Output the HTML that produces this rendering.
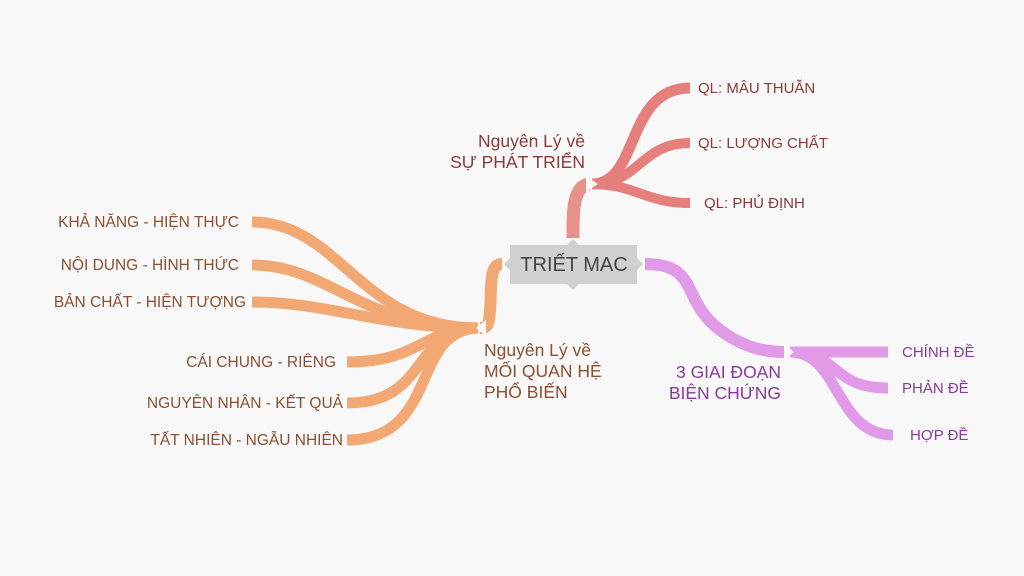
<!DOCTYPE html>
<html><head><meta charset="utf-8"><style>
html,body{margin:0;padding:0;background:#f8f8f8;}
svg{display:block;}
text{font-family:"Liberation Sans",sans-serif;}
</style></head><body>
<svg width="1024" height="576" viewBox="0 0 1024 576">
<rect width="1024" height="576" fill="#f8f8f8"/>
<!-- red -->
<g fill="none" stroke="#e57f7b" stroke-linecap="butt">
<path d="M573 238 C573 215,572 185,590 184" stroke-width="13" stroke="#e8918c"/>
<path d="M592 184 C640 184,625 88,690 88" stroke-width="11"/>
<path d="M592 184 C640 184,640 143,690 143" stroke-width="10"/>
<path d="M592 184 C635 184,645 203,690 203" stroke-width="10"/>
</g>
<polygon points="586,176 598,184 586,192" fill="#f8f8f8"/>
<!-- orange -->
<g fill="none" stroke="#f2a873" stroke-linecap="butt">
<path d="M502 264 C488 264,492 290,490 310 C489 325,488 328,480 328" stroke-width="12"/>
<path d="M478 328 C360 328,340 222,252 222" stroke-width="11"/>
<path d="M478 328 C360 328,330 265,252 265" stroke-width="11"/>
<path d="M478 328 C380 328,330 302,252 302" stroke-width="11"/>
<path d="M478 328 C420 330,420 362,347 362" stroke-width="11"/>
<path d="M478 328 C410 330,430 403,347 403" stroke-width="11"/>
<path d="M478 328 C410 330,440 440,347 440" stroke-width="11"/>
</g>
<polygon points="486,320 476,328 486,336" fill="#f8f8f8"/>
<!-- purple -->
<g fill="none" stroke="#e09ae8" stroke-linecap="butt">
<path d="M645 264 C700 264,680 300,720 330 C740 345,760 352,785 352" stroke-width="12"/>
<path d="M790 352 L888 352" stroke-width="11"/>
<path d="M790 352 C840 352,830 388,888 388" stroke-width="11"/>
<path d="M790 352 C840 352,835 435,893 435" stroke-width="11"/>
</g>
<polygon points="784,344 794,352 784,360" fill="#f8f8f8"/>
<!-- center -->
<polygon points="510,245 567,245 573,239 579,245 637,245 637,258 643,264 637,270 637,284 579,284 573,290 567,284 510,284 510,270 504,264 510,258" fill="#d0d0d0"/>
<text x="574" y="271" text-anchor="middle" font-size="20" fill="#444">TRIẾT MAC</text>
<!-- labels -->
<g font-size="15" fill="#8b3a3a">
<text x="698" y="93">QL: MÂU THUẪN</text>
<text x="698" y="148">QL: LƯỢNG CHẤT</text>
<text x="704" y="208">QL: PHỦ ĐỊNH</text>
</g>
<g font-size="17.5" fill="#8b3a3a" text-anchor="end">
<text x="585" y="147">Nguyên Lý về</text>
<text x="585" y="168">SỰ PHÁT TRIỂN</text>
</g>
<g font-size="15.5" fill="#8a5030" text-anchor="end">
<text x="239" y="227">KHẢ NĂNG - HIỆN THỰC</text>
<text x="239" y="270">NỘI DUNG - HÌNH THỨC</text>
<text x="246" y="307">BẢN CHẤT - HIỆN TƯỢNG</text>
<text x="336" y="367">CÁI CHUNG - RIÊNG</text>
<text x="343" y="408">NGUYÊN NHÂN - KẾT QUẢ</text>
<text x="343" y="445">TẤT NHIÊN - NGẪU NHIÊN</text>
</g>
<g font-size="17.5" fill="#8a5030">
<text x="484" y="356">Nguyên Lý về</text>
<text x="484" y="377">MỐI QUAN HỆ</text>
<text x="484" y="398">PHỔ BIẾN</text>
</g>
<g font-size="17.5" fill="#8a3a9a" text-anchor="end">
<text x="781" y="378">3 GIAI ĐOẠN</text>
<text x="781" y="399">BIỆN CHỨNG</text>
</g>
<g font-size="15" fill="#8a3a9a">
<text x="902" y="357">CHÍNH ĐỀ</text>
<text x="902" y="393">PHẢN ĐỀ</text>
<text x="910" y="440">HỢP ĐỀ</text>
</g>
</svg>
</body></html>
